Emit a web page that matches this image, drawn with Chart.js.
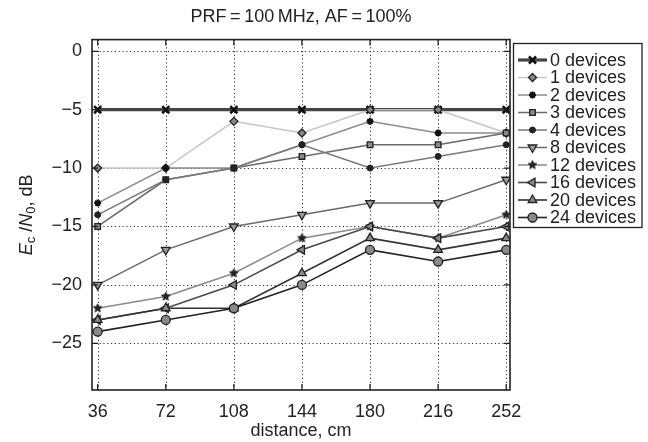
<!DOCTYPE html>
<html><head><meta charset="utf-8">
<script src="https://cdn.jsdelivr.net/npm/chart.js@4.4.0/dist/chart.umd.min.js"></script>
<style>html,body{margin:0;padding:0;background:#fff;}</style>
</head><body>
<canvas id="c" width="648" height="442"></canvas>
<script>
const distances = [36, 72, 108, 144, 180, 216, 252];
const yTicks = [0, -5, -10, -15, -20, -25];
const seriesLabels = ['0 devices','1 devices','2 devices','3 devices','4 devices','8 devices','12 devices','16 devices','20 devices','24 devices'];
const dev0  = [-5, -5, -5, -5, -5, -5, -5];
const dev1  = [-10, -10, -6, -7, -5, -5, -7];
const dev2  = [-13, -10, -10, -8, -6, -7, -7];
const dev3  = [-15, -11, -10, -9, -8, -8, -7];
const dev4  = [-14, -11, -10, -8, -10, -9, -8];
const dev8  = [-20, -17, -15, -14, -13, -13, -11];
const dev12 = [-22, -21, -19, -16, -15, -16, -14];
const dev16 = [-23, -22, -20, -17, -15, -16, -15];
const dev20 = [-23, -22, -22, -19, -16, -17, -16];
const dev24 = [-24, -23, -22, -20, -17, -18, -17];
const allSeries = [dev0, dev1, dev2, dev3, dev4, dev8, dev12, dev16, dev20, dev24];

const FONT = "'Liberation Sans', Arial, Helvetica, sans-serif";

function pentagram(r, fill, stroke){
  const s = Math.ceil(r*2+4);
  const cv = document.createElement('canvas');
  cv.width = s; cv.height = s;
  const g = cv.getContext('2d');
  g.translate(s/2, s/2);
  g.beginPath();
  for(let i=0;i<10;i++){
    const rr = i%2===0 ? r : r*0.45;
    const a = -Math.PI/2 + i*Math.PI/5;
    const px = rr*Math.cos(a), py = rr*Math.sin(a);
    if(i===0) g.moveTo(px,py); else g.lineTo(px,py);
  }
  g.closePath();
  g.fillStyle = fill; g.fill();
  g.lineWidth = 1; g.strokeStyle = stroke; g.stroke();
  return cv;
}

const styles = [
  {line:'#454545', w:3.2, ps:'crossRot', r:5, rot:0, fill:'#111', edge:'#111', bw:2.6},
  {line:'#c6c6c6', w:1.5, ps:'rectRot', r:4, rot:0, fill:'#888', edge:'#222', bw:1.3},
  {line:'#8c8c8c', w:1.5, ps:'star', r:3.5, rot:0, fill:'#111', edge:'#111', bw:2},
  {line:'#6a6a6a', w:1.5, ps:'rect', r:4, rot:0, fill:'#8a8a8a', edge:'#222', bw:1.3},
  {line:'#7a7a7a', w:1.5, ps:'circle', r:3, rot:0, fill:'#222', edge:'#222', bw:1},
  {line:'#6a6a6a', w:1.5, ps:'triangle', r:5, rot:180, fill:'#9a9a9a', edge:'#222', bw:1.3},
  {line:'#8a8a8a', w:1.5, ps:pentagram(4.5,'#222','#222'), r:4.5, rot:0, fill:'#222', edge:'#222', bw:1},
  {line:'#4a4a4a', w:1.6, ps:'triangle', r:5, rot:-90, fill:'#8a8a8a', edge:'#222', bw:1.3},
  {line:'#333333', w:1.6, ps:'triangle', r:5, rot:0, fill:'#8a8a8a', edge:'#222', bw:1.3},
  {line:'#222222', w:1.6, ps:'circle', r:4.5, rot:0, fill:'#8a8a8a', edge:'#222', bw:1.3}
];

const datasets = allSeries.map((arr, i) => ({
  label: seriesLabels[i],
  data: arr.map((v, j) => ({x: distances[j], y: v})),
  borderColor: styles[i].line,
  borderWidth: styles[i].w,
  pointStyle: styles[i].ps,
  pointRadius: styles[i].r,
  pointRotation: styles[i].rot,
  pointBackgroundColor: styles[i].fill,
  pointBorderColor: styles[i].edge,
  pointBorderWidth: styles[i].bw,
  tension: 0,
  fill: false,
  order: 10 - i
}));

const framePlugin = {
  id: 'frame',
  beforeDatasetsDraw(chart){
    const {ctx, chartArea: a, scales: {x, y}} = chart;
    ctx.save();
    ctx.strokeStyle = '#333';
    ctx.lineWidth = 1;
    ctx.setLineDash([1.2, 2.6]);
    distances.forEach(v => {
      const px = Math.round(x.getPixelForValue(v)) + 0.5;
      ctx.beginPath(); ctx.moveTo(px, a.top); ctx.lineTo(px, a.bottom); ctx.stroke();
    });
    yTicks.forEach(v => {
      const py = Math.round(y.getPixelForValue(v)) + 0.5;
      ctx.beginPath(); ctx.moveTo(a.left, py); ctx.lineTo(a.right, py); ctx.stroke();
    });
    ctx.restore();
  },
  afterDatasetsDraw(chart){
    const {ctx, chartArea: a, scales: {x, y}} = chart;
    ctx.save();
    ctx.strokeStyle = '#222';
    ctx.lineWidth = 1.6;
    ctx.setLineDash([]);
    ctx.strokeRect(a.left, a.top, a.right - a.left, a.bottom - a.top);
    ctx.lineWidth = 1.3;
    const tl = 6;
    distances.forEach(v => {
      const px = x.getPixelForValue(v);
      ctx.beginPath();
      ctx.moveTo(px, a.bottom); ctx.lineTo(px, a.bottom - tl);
      ctx.moveTo(px, a.top); ctx.lineTo(px, a.top + tl);
      ctx.stroke();
    });
    yTicks.forEach(v => {
      const py = y.getPixelForValue(v);
      ctx.beginPath();
      ctx.moveTo(a.left, py); ctx.lineTo(a.left + tl, py);
      ctx.moveTo(a.right, py); ctx.lineTo(a.right - tl, py);
      ctx.stroke();
    });

    // y-axis title with subscripts
    const parts = [
      {t:'E', f:'italic 18px ' + FONT, dy:0},
      {t:'c', f:'13px ' + FONT, dy:4},
      {t:' /', f:'18px ' + FONT, dy:0},
      {t:'N', f:'italic 18px ' + FONT, dy:0},
      {t:'0', f:'13px ' + FONT, dy:4},
      {t:', dB', f:'18px ' + FONT, dy:0}
    ];
    let total = 0;
    parts.forEach(p => { ctx.font = p.f; p.w = ctx.measureText(p.t).width; total += p.w; });
    ctx.translate(27, (a.top + a.bottom) / 2);
    ctx.rotate(-Math.PI / 2);
    ctx.fillStyle = '#222';
    ctx.textBaseline = 'middle';
    let cx = -total / 2;
    parts.forEach(p => { ctx.font = p.f; ctx.fillText(p.t, cx, p.dy); cx += p.w; });
    ctx.restore();

    // legend
    ctx.save();
    const L = 513.5, T = 43.5, R = 642, rowH = 17.5, firstY = 60;
    const B = firstY + rowH * (datasets.length - 1) + 10;
    ctx.fillStyle = '#fff';
    ctx.fillRect(L, T, R - L, B - T);
    ctx.strokeStyle = '#222';
    ctx.lineWidth = 1.3;
    ctx.strokeRect(L, T, R - L, B - T);
    chart.data.datasets.forEach((ds, i) => {
      const yy = firstY + rowH * i;
      ctx.strokeStyle = ds.borderColor;
      ctx.lineWidth = ds.borderWidth;
      ctx.beginPath(); ctx.moveTo(518, yy); ctx.lineTo(547, yy); ctx.stroke();
      ctx.fillStyle = ds.pointBackgroundColor;
      ctx.strokeStyle = ds.pointBorderColor;
      ctx.lineWidth = ds.pointBorderWidth;
      Chart.helpers.drawPoint(ctx, {pointStyle: ds.pointStyle, rotation: ds.pointRotation, radius: ds.pointRadius, borderWidth: ds.pointBorderWidth}, 532.5, yy);
      ctx.fillStyle = '#222';
      ctx.font = '18px ' + FONT;
      ctx.textBaseline = 'middle';
      ctx.fillText(ds.label, 550, yy + 1);
    });
    ctx.restore();
  }
};

new Chart(document.getElementById('c'), {
  type: 'line',
  data: { datasets },
  options: {
    responsive: false,
    animation: false,
    devicePixelRatio: 1,
    layout: { padding: { top: 0, right: 138, bottom: 0, left: 0 } },
    plugins: {
      legend: { display: false },
      tooltip: { enabled: false },
      title: {
        display: true,
        text: 'PRF\u2009=\u2009100\u2009MHz, AF\u2009=\u2009100%',
        fullSize: false,
        color: '#222',
        font: { family: FONT, size: 18, weight: 'normal' },
        padding: { top: 6, bottom: 12 }
      }
    },
    scales: {
      x: {
        type: 'linear',
        min: 33, max: 254,
        afterBuildTicks: s => { s.ticks = distances.map(v => ({ value: v })); },
        afterFit: s => { s.height = 52; },
        grid: { display: false, drawTicks: false },
        border: { display: false },
        ticks: { color: '#222', font: { family: FONT, size: 18 }, padding: 11, callback: v => String(v), maxRotation: 0 },
        title: { display: true, text: 'distance, cm', color: '#222', font: { family: FONT, size: 18 }, padding: { top: 0, bottom: 0 } }
      },
      y: {
        type: 'linear',
        min: -29, max: 1,
        afterBuildTicks: s => { s.ticks = yTicks.map(v => ({ value: v })); },
        afterFit: s => { s.width = 92; },
        grid: { display: false, drawTicks: false },
        border: { display: false },
        ticks: { color: '#222', font: { family: FONT, size: 18 }, padding: 10, callback: v => (v < 0 ? '\u2212' + Math.abs(v) : String(v)) }
      }
    }
  },
  plugins: [framePlugin]
});
</script>
</body></html>
